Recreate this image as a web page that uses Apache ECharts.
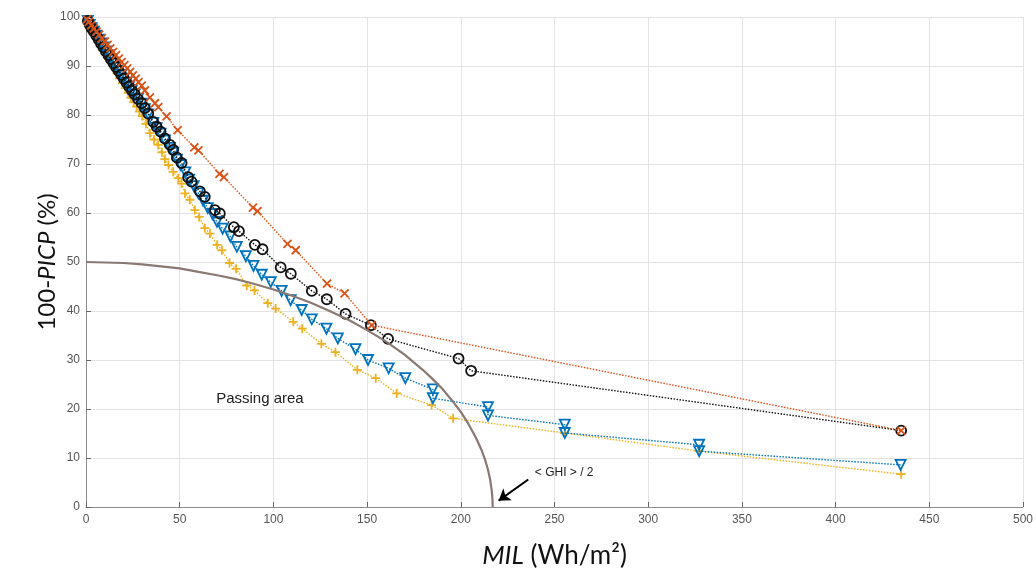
<!DOCTYPE html>
<html>
<head>
<meta charset="utf-8">
<script src="https://cdn.jsdelivr.net/npm/echarts@6/dist/echarts.min.js"></script>
<style>html,body{margin:0;padding:0;background:#fff}#c{width:1036px;height:576px}</style>
</head>
<body>
<div id="c"></div>
<script>
// ---- data (x = MIL in Wh/m², y = 100-PICP in %) ----
var xTicks = [0, 50, 100, 150, 200, 250, 300, 350, 400, 450, 500];
var yTicks = [0, 10, 20, 30, 40, 50, 60, 70, 80, 90, 100];

var orangeCross = [
  [0.5,99.5],[1.5,99],[2.8,98.3],[4.2,97.7],[5.6,97],[7,96.4],[8.5,95.7],[10,95],[11.5,94.3],[13,93.6],
  [14.5,92.9],[16,92.2],[17.5,91.5],[19,90.8],[20.5,90.2],[22,89.5],[23.5,88.8],[25,88.1],[26.5,87.4],[28,86.7],
  [29.7,86],[31.4,85],[34.1,83.6],[36.8,82.4],[38.6,81.6],[43,79.7],[48.9,76.9],[57.8,73.4],[60,72.8],
  [71.2,68],[73.6,67.3],[89.1,61.1],[91.5,60.4],[107.5,53.7],[111.9,52.4],[128.6,45.6],[138,43.6],
  [152.5,37.1],[435,15.6]
];
var blackCircle = [
  [1,99.2],[2,98.4],[3,97.7],[4.2,97],[5.5,96.2],[6.8,95.4],[8,94.6],[9.3,93.8],[10.6,93],[12,92.2],
  [13.3,91.4],[14.6,90.6],[16,89.8],[17.4,89],[18.8,88.2],[20.2,87.4],[21.6,86.6],[23,85.8],[24.5,85],[26,84.2],
  [27.7,83.3],[29.7,82.4],[31.4,81.4],[33.2,80.3],[35.9,78.6],[37.7,77.6],[39.8,76.6],[42.1,75.2],[44.8,73.9],
  [46.5,72.9],[48.5,71.3],[51,70.2],[54.5,67.3],[56.3,66.4],[60.8,64.4],[63.4,63.3],[68.8,60.6],[71.4,59.9],
  [78.9,57.1],[81.6,56.3],[90.1,53.5],[94.2,52.6],[103.9,48.9],[109.3,47.6],[120.5,44.1],[128.5,42.4],
  [138.5,39.4],[152,37.1],[161.2,34.3],[198.8,30.3],[205.5,27.8],[435,15.6]
];
var blueTriangle = [
  [1,99.2],[2,98.4],[3,97.7],[4.2,97],[5.5,96.2],[6.8,95.4],[8,94.6],[9.3,93.8],[10.6,93],[12,92.2],
  [13.3,91.4],[14.6,90.6],[16,89.8],[17.4,89],[18.8,88.2],[20.2,87.4],[21.6,86.6],[23,85.8],[24.5,85],[26,84.2],
  [27.7,83.3],[29.7,82.3],[31.4,81.2],[33.2,80.1],[35.9,78.4],[37.7,77.3],[39.8,76.2],[42.1,74.8],[44.8,73.3],
  [46.5,72.3],[48.5,70.9],[50.5,69.8],[53,68.3],[55,66.8],[57.5,65.5],[60,64],[62.5,62.5],[65,61],[67.5,59.8],
  [69.9,58.2],[72.9,56.8],[77,55.2],[80.5,53.1],[85.3,51.2],[89.4,49.2],[93.8,47.4],[98.6,45.9],[104.4,44.1],
  [109.2,42.2],[115.1,40.2],[120.5,38.3],[128.3,36.4],[134.4,34.4],[143.8,32.2],[150.5,30],[161.5,28.3],
  [170.4,26.3],[185.1,24],[185.1,22.2],[214.5,20.4],[214.5,18.7],[255.5,16.8],[255.5,15.1],[327.2,12.7],
  [327.2,11.4],[434.7,8.6]
];
var yellowPlus = [
  [1,98.8],[2.3,97.9],[3.6,97],[5,96.1],[6.4,95.2],[7.8,94.3],[9.2,93.4],[10.6,92.4],[12,91.5],[13.5,90.5],
  [15,89.5],[16.5,88.5],[18,87.5],[19.5,86.5],[21,85.5],[22.5,84.5],[24,83.5],[25.5,82.6],[27,81.7],[28.5,80.7],
  [30,79.8],[32,78.2],[34.1,76.3],[36.3,75],[38.5,73.9],[40.5,72.4],[42.1,71],[44,69.8],[46.5,68.4],[49.2,67.1],
  [51,66],[52.8,64],[55.4,62.7],[58.1,60.6],[60.4,59.2],[63.4,56.9],[66.1,55.8],[70,53.5],[72.5,52.4],
  [76.6,49.8],[80.1,48.6],[85.8,45.2],[89.9,44.2],[97,41.6],[101.2,40.5],[110.6,37.8],[115.4,36.4],
  [125.6,33.3],[133.1,31.6],[144.8,28],[154.6,26.3],[165.8,23.2],[184.4,20.8],[195.9,18.1],[255.5,15.1],
  [327.2,11.4],[435,6.7]
];
// boundary curve: (0,50) to <GHI>/2 ≈ 217
var passingBoundary = [
  [0,50],[10,49.9],[20,49.8],[30,49.5],[40,49.1],[50,48.7],[60,48.0],[70,47.3],[80,46.5],[90,45.5],
  [100,44.4],[110,43.1],[120,41.7],[130,40.0],[140,38.2],[150,36.1],[160,33.8],[170,31.1],[180,27.9],
  [185,26.1],[190,24.2],[195,21.9],[200,19.4],[204,17.0],[208,14.2],[211,11.7],[213,9.6],[214.5,7.6],
  [215.7,5.5],[216.5,3.4],[216.9,1.6],[217,0]
];
var passingLabel = ['Passing area', 92.8, 22];
var ghiLabel = ['< GHI > / 2', 239.5, 7.1];
var ghiArrow = [[236, 5.6], [220.2, 1.3]];

// ---- chart ----
var C_OR = '#D95319', C_BL = '#0072BD', C_YE = '#EDB120', C_BK = '#111111', C_CURVE = '#8a7872';
var SYM_X = 'path://M0,0L10,10M10,0L0,10';
var SYM_P = 'path://M5,0L5,10M0,5L10,5';
var SYM_TRI = 'path://M0,0L10,0L5,9Z';
var tickFont = "'Liberation Sans Narrow','Liberation Sans',Arial,sans-serif";
var titleFont = "Lato,'Open Sans',sans-serif";

function markerSeries(name, data, color, symbol, size, z) {
  return {
    name: name, type: 'line', data: data, z: z,
    symbol: symbol, symbolSize: size, showAllSymbol: true,
    lineStyle: { color: color, width: 1.4, type: [1.5, 1.5] },
    itemStyle: { color: 'rgba(0,0,0,0)', borderColor: color, borderWidth: 1.8 },
    emphasis: { disabled: true }
  };
}

var chart = echarts.init(document.getElementById('c'), null, { renderer: 'canvas' });
chart.setOption({
  animation: false,
  backgroundColor: '#ffffff',
  grid: { left: 86, right: 12, top: 17, bottom: 69, containLabel: false },
  xAxis: {
    type: 'value', min: xTicks[0], max: xTicks[xTicks.length - 1], interval: 50,
    name: '{i|MIL} (Wh/m²)', nameLocation: 'middle', nameGap: 36,
    nameTextStyle: { fontFamily: titleFont, fontSize: 26, color: '#111',
      rich: { i: { fontFamily: titleFont, fontSize: 26, fontStyle: 'italic', color: '#111' } } },
    axisLine: { lineStyle: { color: '#8c8c8c', width: 1 } },
    axisTick: { inside: true, length: 5, lineStyle: { color: '#666' } },
    axisLabel: { color: '#555', fontSize: 12, fontFamily: tickFont, margin: 7 },
    splitLine: { show: true, lineStyle: { color: '#e3e3e3', width: 1 } }
  },
  yAxis: {
    type: 'value', min: yTicks[0], max: yTicks[yTicks.length - 1], interval: 10,
    name: '100-{i|PICP} (%)', nameLocation: 'middle', nameGap: 27, nameMoveOverlap: false,
    nameTextStyle: { fontFamily: titleFont, fontSize: 24, color: '#111',
      rich: { i: { fontFamily: titleFont, fontSize: 24, fontStyle: 'italic', color: '#111' } } },
    axisLine: { show: true, lineStyle: { color: '#8c8c8c', width: 1 } },
    axisTick: { show: true, inside: true, length: 5, lineStyle: { color: '#666' } },
    axisLabel: { color: '#555', fontSize: 12, fontFamily: tickFont, margin: 6 },
    splitLine: { show: true, lineStyle: { color: '#e3e3e3', width: 1 } }
  },
  series: [
    markerSeries('yellow', yellowPlus, C_YE, SYM_P, 9, 3),
    markerSeries('blue', blueTriangle, C_BL, SYM_TRI, 10, 4),
    markerSeries('black', blackCircle, C_BK, 'circle', 10, 5),
    markerSeries('orange', orangeCross, C_OR, SYM_X, 8, 6),
    {
      name: 'boundary', type: 'line', data: passingBoundary, z: 7,
      smooth: false, symbol: 'none',
      lineStyle: { color: C_CURVE, width: 2.2, join: 'round' },
      emphasis: { disabled: true },
      markLine: {
        silent: true, animation: false,
        symbol: ['none', 'arrow'], symbolSize: 11,
        lineStyle: { color: '#000', width: 2, type: 'solid' },
        label: { show: false },
        data: [[{ coord: ghiArrow[0] }, { coord: ghiArrow[1] }]]
      },
      markPoint: {
        silent: true, animation: false, symbol: 'circle', symbolSize: 0,
        data: [
          { coord: [passingLabel[1], passingLabel[2]], value: passingLabel[0],
            label: { show: true, formatter: passingLabel[0], fontFamily: 'Arial,Liberation Sans,sans-serif',
              fontSize: 15, color: '#222', position: 'inside', align: 'center', verticalAlign: 'middle' } },
          { coord: [ghiLabel[1], ghiLabel[2]], value: ghiLabel[0],
            label: { show: true, formatter: ghiLabel[0], fontFamily: 'Arial,Liberation Sans,sans-serif',
              fontSize: 12, color: '#222', position: 'inside', align: 'left', verticalAlign: 'middle' } }
        ]
      }
    }
  ]
});
</script>
</body>
</html>
